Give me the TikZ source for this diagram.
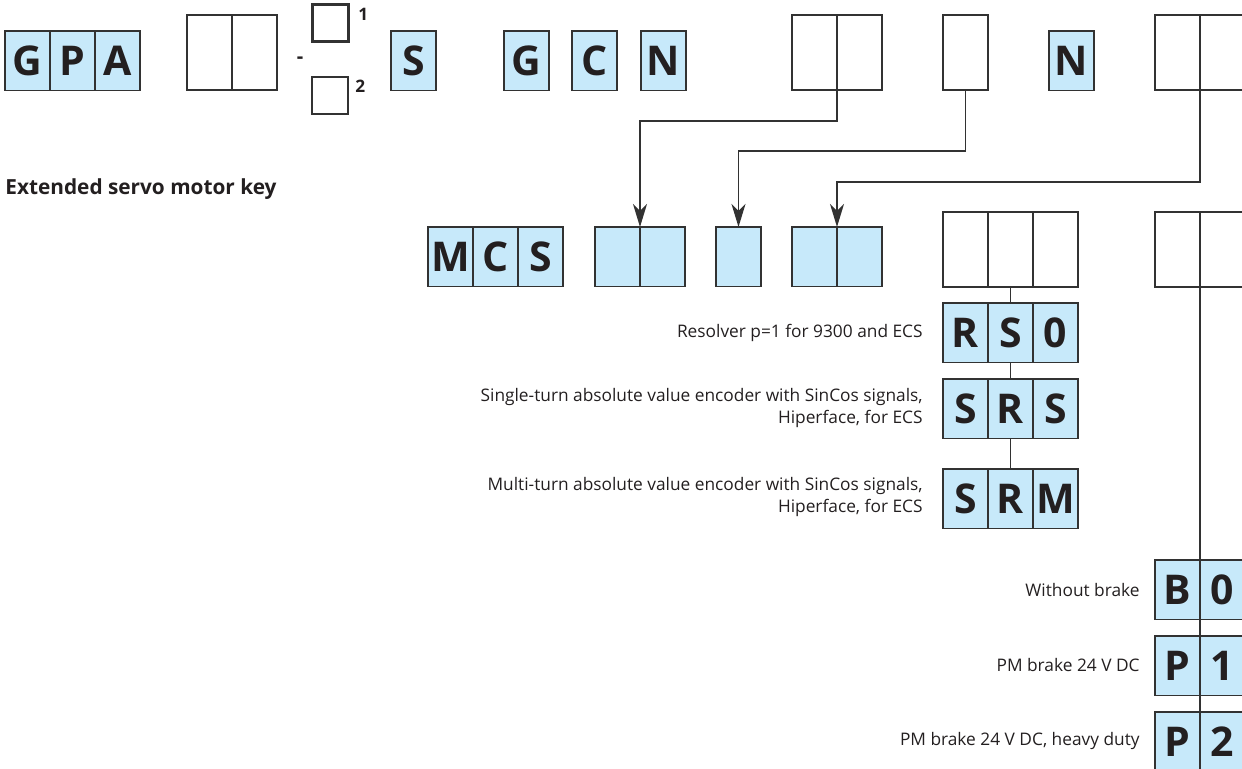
\documentclass[tikz,border=0pt]{standalone}
\usepackage{fontspec}
\setmainfont{Open Sans}
\usetikzlibrary{positioning,arrows.meta}
\definecolor{keyblue}{RGB}{199,233,250}
\definecolor{keyline}{RGB}{50,50,50}
\definecolor{keytext}{RGB}{35,31,32}

\begin{document}
\begin{tikzpicture}[x=0.5pt,y=-0.5pt,
cell/.style={
    rectangle,
    draw=keyline,
    fill=keyblue,
    text=keytext,
    anchor=north west,
    minimum width=22.5pt,
    minimum height=29.75pt,
    inner sep=0,
    outer sep=0,
    line width=0.7pt,
    font=\fontsize{20.5}{24}\selectfont\bfseries
    },
slot/.style={cell,fill=white,minimum height=37.5pt},
genbox/.style={cell,fill=white,minimum width=18pt,minimum height=18.5pt},
note/.style={
    anchor=east,
    align=right,
    inner sep=0,
    text=keytext,
    font=\fontsize{8.65}{11}\selectfont},
small/.style={anchor=west,inner sep=0,text=keytext,font=\fontsize{8.6}{10}\selectfont\bfseries},
link/.style={draw=keyline,line width=0.7pt},
arr/.style={link,-{Stealth[length=11.5pt,width=7pt,inset=3.5pt]}}
]
\useasboundingbox (0,0) rectangle (1242,769);
\clip (0,0) rectangle (1242,769);

\node(title) [anchor=west,inner sep=0,text=keytext,font=\fontsize{10.4}{12}\selectfont\bfseries] at (5,189) {Extended servo motor key};

\node(gpaG) [cell] at (5,31) {G};
\node(gpaP) [cell,right=0pt of gpaG] {P};
\node(gpaA) [cell,right=0pt of gpaP] {A};
\node(sizeA) [slot] at (187,15) {};
\node(sizeB) [slot,right=0pt of sizeA] {};
\node(dash) [inner sep=0,text=keytext,font=\fontsize{10}{10}\selectfont\bfseries] at (300,60) {-};
\node(genA) [genbox,line width=1.5pt] at (312,5) {};
\node(genB) [genbox] at (312,77) {};
\node(genAnum) [small] at (358,14) {1};
\node(genBnum) [small] at (355,86) {2};
\node(typeS) [cell] at (391,31) {S};
\node(unitG) [cell] at (504,31) {G};
\node(unitC) [cell] at (572,31) {C};
\node(unitN) [cell] at (641,31) {N};
\node(ratioA) [slot] at (792,15) {};
\node(ratioB) [slot,right=0pt of ratioA] {};
\node(shaft) [slot] at (943,15) {};
\node(flangeN) [cell] at (1049,31) {N};
\node(motorA) [slot] at (1155,15) {};
\node(motorB) [slot,right=0pt of motorA] {};

\node(mcsM) [cell] at (428,227) {M};
\node(mcsC) [cell,right=0pt of mcsM] {C};
\node(mcsS) [cell,right=0pt of mcsC] {S};
\node(frameA) [cell] at (595,227) {};
\node(frameB) [cell,right=0pt of frameA] {};
\node(length) [cell] at (716,227) {};
\node(speedA) [cell] at (792,227) {};
\node(speedB) [cell,right=0pt of speedA] {};
\node(encA) [slot] at (943,212) {};
\node(encB) [slot,right=0pt of encA] {};
\node(encC) [slot,right=0pt of encB] {};
\node(brakeA) [slot] at (1155,212) {};
\node(brakeB) [slot,right=0pt of brakeA] {};

\node(rsoR) [cell] at (943,303) {R};
\node(rsoS) [cell,right=0pt of rsoR] {S};
\node(rsoZ) [cell,right=0pt of rsoS] {0};
\node(srsS) [cell] at (943,379) {S};
\node(srsR) [cell,right=0pt of srsS] {R};
\node(srsT) [cell,right=0pt of srsR] {S};
\node(srmS) [cell] at (943,469) {S};
\node(srmR) [cell,right=0pt of srmS] {R};
\node(srmM) [cell,right=0pt of srmR] {M};

\node(bzB) [cell] at (1155,560) {B};
\node(bzZ) [cell,right=0pt of bzB] {0};
\node(poP) [cell] at (1155,636) {P};
\node(poO) [cell,right=0pt of poP] {1};
\node(ptP) [cell] at (1155,712) {P};
\node(ptT) [cell,right=0pt of ptP] {2};

\node(rsonote) [note] at (923,333) {Resolver p=1 for 9300 and ECS};
\node(srsnote) [note] at (923,408) {Single-turn absolute value encoder with SinCos signals,\\ Hiperface, for ECS};
\node(srmnote) [note] at (923,497) {Multi-turn absolute value encoder with SinCos signals,\\ Hiperface, for ECS};
\node(bznote) [note] at (1140,590) {Without brake};
\node(ponote) [note] at (1140,665) {PM brake 24 V DC};
\node(ptnote) [note] at (1140,741) {PM brake 24 V DC, heavy duty};

\draw[arr] (ratioA.south east) -- ++(0,31) -| (frameA.north east);
\draw[arr] (shaft.south) -- ++(0,61) -| (length.north);
\draw[arr] (motorA.south east) -- ++(0,92) -| (speedA.north east);
\draw[link] (encB.south) -- (rsoS.north);
\draw[link] (rsoS.south) -- (srsR.north);
\draw[link] (srsR.south) -- (srmR.north);
\draw[link] (brakeA.south east) -- (bzB.north east);
\draw[link] (bzB.south east) -- (poP.north east);
\draw[link] (poP.south east) -- (ptP.north east);
\end{tikzpicture}
\end{document}
